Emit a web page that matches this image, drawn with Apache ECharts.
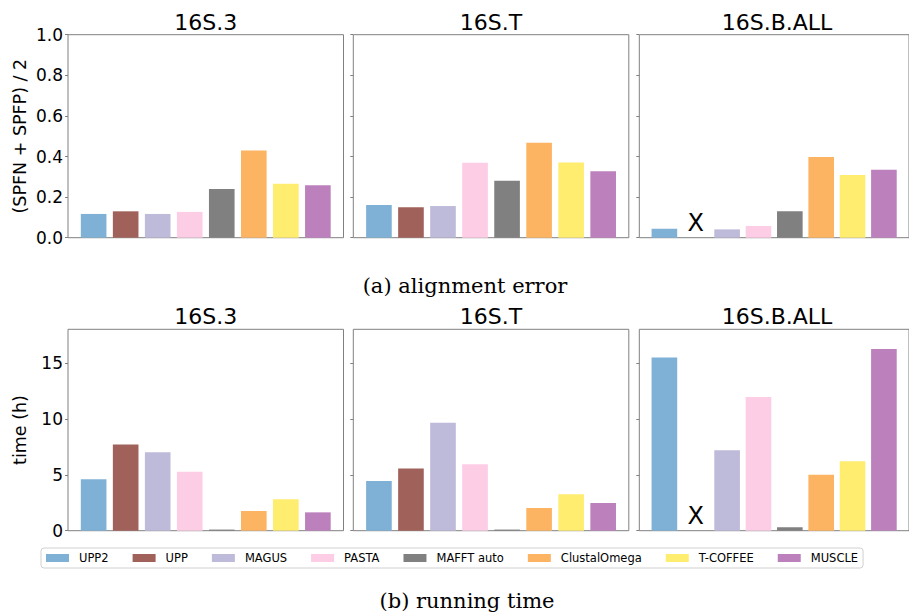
<!DOCTYPE html>
<html>
<head>
<meta charset="utf-8">
<script src="https://cdn.jsdelivr.net/npm/echarts@6/dist/echarts.min.js"></script>
<style>
html,body{margin:0;padding:0;background:#fff;}
#chart{width:909px;height:616px;}
</style>
</head>
<body>
<div id="chart"></div>
<script>
// ---- data ----
const methods = ['UPP2', 'UPP', 'MAGUS', 'PASTA', 'MAFFT auto', 'ClustalOmega', 'T-COFFEE', 'MUSCLE'];
const datasets = ['16S.3', '16S.T', '16S.B.ALL'];
const error16S3 = [0.117, 0.130, 0.117, 0.127, 0.240, 0.430, 0.266, 0.258];
const error16ST = [0.161, 0.150, 0.156, 0.369, 0.281, 0.468, 0.371, 0.327];
const error16SBALL = [0.044, null, 0.041, 0.058, 0.130, 0.398, 0.309, 0.335];
const time16S3 = [4.60, 7.70, 7.02, 5.26, 0.10, 1.76, 2.81, 1.64];
const time16ST = [4.45, 5.55, 9.64, 5.94, 0.10, 2.03, 3.26, 2.48];
const time16SBALL = [15.49, null, 7.20, 11.94, 0.30, 5.01, 6.21, 16.24];
const errorTicks = [0, 0.2, 0.4, 0.6, 0.8, 1.0];
const timeTicks = [0, 5, 10, 15];
const errorLabel = '(SPFN + SPFP) / 2';
const timeLabel = 'time (h)';
const captionA = '(a) alignment error';
const captionB = '(b) running time';
const missingMark = 'X';

// ---- styles ----
const colors = ['#7fb0d5', '#a0615a', '#bebada', '#fccde5', '#808080', '#fdb462', '#ffed6f', '#bc80bd'];
const SANS = 'DejaVu Sans';
const SERIF = 'DejaVu Serif';
const colLeft = [68, 353.3, 639.3];
const colWidth = 275.5;
const rowTop = [34.7, 329.3];
const rowHeight = [203, 201.4];
const frameColor = '#808080';
const barW = 0.8 * colWidth / 8.6;

const rows = [
  {values: [error16S3, error16ST, error16SBALL], max: 1, ticks: errorTicks, fmt: v => v.toFixed(1), name: errorLabel},
  {values: [time16S3, time16ST, time16SBALL], max: 18, ticks: timeTicks, fmt: v => String(v), name: timeLabel}
];

const grids = [], xAxes = [], yAxes = [], series = [], graphics = [];
let g = 0;
rows.forEach((row, r) => {
  datasets.forEach((ds, c) => {
    grids.push({left: colLeft[c], top: rowTop[r], width: colWidth, height: rowHeight[r],
      show: true, borderColor: frameColor, borderWidth: 1, backgroundColor: 'transparent', containLabel: false});
    xAxes.push({type: 'value', gridIndex: g, min: -0.8, max: 7.8,
      axisLine: {show: false, onZero: false}, axisTick: {show: false}, axisLabel: {show: false}, splitLine: {show: false}});
    yAxes.push({type: 'value', gridIndex: g, min: 0, max: row.max, position: 'left',
      axisLine: {show: false, onZero: false},
      axisTick: {show: true, inside: false, length: 3, customValues: row.ticks, lineStyle: {color: frameColor, width: 1}},
      axisLabel: {show: c === 0, customValues: row.ticks, formatter: row.fmt, margin: 5,
        fontFamily: SANS, fontSize: 17, color: '#000'},
      splitLine: {show: false},
      name: c === 0 ? row.name : '', nameLocation: 'middle', nameGap: 39,
      nameTextStyle: {fontFamily: SANS, fontSize: 17.5, color: '#000'}});
    const vals = row.values[c];
    methods.forEach((m, i) => {
      const v = vals[i];
      const item = v == null
        ? {value: [i, 0], label: {show: true, formatter: missingMark, position: 'top', distance: 3,
            fontFamily: SANS, fontSize: 24, color: '#000'}}
        : {value: [i, v]};
      series.push({type: 'bar', name: m, xAxisIndex: g, yAxisIndex: g, data: [item],
        barWidth: barW, barGap: '-100%', itemStyle: {color: colors[i]}, emphasis: {disabled: true}});
    });
    // panel title
    graphics.push({type: 'text', x: colLeft[c] + colWidth / 2, y: rowTop[r] - 12.5,
      style: {text: ds, fontFamily: SANS, fontSize: 22, fill: '#000',
        textAlign: 'center', textVerticalAlign: 'middle', align: 'center', verticalAlign: 'middle'}});
    g++;
  });
});
graphics.push({type: 'text', x: 465, y: 286,
  style: {text: captionA, fontFamily: SERIF, fontSize: 21, fill: '#000',
    textAlign: 'center', textVerticalAlign: 'middle', align: 'center', verticalAlign: 'middle'}});
graphics.push({type: 'text', x: 467, y: 601,
  style: {text: captionB, fontFamily: SERIF, fontSize: 21, fill: '#000',
    textAlign: 'center', textVerticalAlign: 'middle', align: 'center', verticalAlign: 'middle'}});

const chart = echarts.init(document.getElementById('chart'), null, {renderer: 'svg'});
chart.setOption({
  animation: false,
  backgroundColor: '#fff',
  grid: grids,
  xAxis: xAxes,
  yAxis: yAxes,
  series: series,
  legend: {
    data: methods, selectedMode: false, left: 41, top: 548, padding: [4, 5],
    icon: 'rect', itemWidth: 23, itemHeight: 8, itemGap: 24,
    borderColor: '#d0d0d0', borderWidth: 1, borderRadius: 3,
    textStyle: {fontFamily: SANS, fontSize: 11.5, color: '#000', padding: [0, 0, 0, 5]}
  },
  graphic: graphics
});
</script>
</body>
</html>
